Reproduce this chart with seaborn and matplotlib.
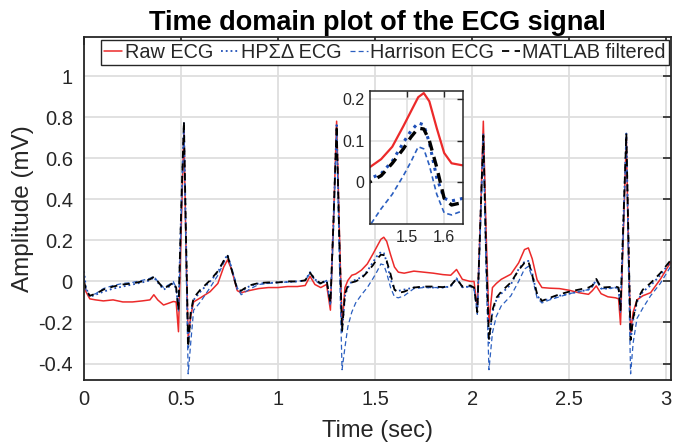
import matplotlib
matplotlib.use("Agg")
import matplotlib.pyplot as plt
import seaborn as sns
import numpy as np

# ---------------- data ----------------
t = [0.000, 0.010, 0.030, 0.060, 0.100, 0.150, 0.200, 0.250, 0.300, 0.340,
     0.360, 0.380, 0.410, 0.440, 0.460, 0.475, 0.487, 0.501, 0.515, 0.526,
     0.537, 0.550, 0.565, 0.600, 0.650, 0.690, 0.720, 0.740, 0.760, 0.790,
     0.810, 0.850, 0.900, 0.950, 1.000, 1.050, 1.100, 1.140, 1.165, 1.190,
     1.220, 1.250, 1.270, 1.286, 1.302, 1.316, 1.330, 1.345, 1.360, 1.380,
     1.400, 1.430, 1.460, 1.490, 1.510, 1.530, 1.545, 1.560, 1.580, 1.600,
     1.620, 1.650, 1.700, 1.750, 1.800, 1.850, 1.890, 1.920, 1.950, 1.990,
     2.010, 2.027, 2.043, 2.058, 2.072, 2.087, 2.105, 2.125, 2.150, 2.200,
     2.240, 2.270, 2.290, 2.310, 2.335, 2.360, 2.400, 2.450, 2.500, 2.550,
     2.600, 2.620, 2.640, 2.665, 2.700, 2.740, 2.755, 2.765, 2.780, 2.795,
     2.806, 2.817, 2.830, 2.850, 2.880, 2.920, 2.970, 3.025]

raw_ecg = [0.00, -0.05, -0.085, -0.09, -0.095, -0.09, -0.10, -0.10, -0.095, -0.09,
           -0.065, -0.09, -0.115, -0.105, -0.098, -0.10, -0.245, 0.25, 0.74, 0.15,
           -0.28, -0.17, -0.10, -0.08, -0.05, -0.01, 0.07, 0.105, 0.06, -0.045,
           -0.055, -0.045, -0.035, -0.03, -0.03, -0.025, -0.025, -0.02, 0.025, -0.015,
           -0.03, -0.015, -0.14, 0.30, 0.78, 0.25, -0.22, -0.03, 0.005, 0.03,
           0.036, 0.055, 0.085, 0.135, 0.17, 0.205, 0.215, 0.195, 0.13, 0.07,
           0.045, 0.04, 0.05, 0.045, 0.04, 0.033, 0.03, 0.058, 0.01, 0.0,
           0.0, -0.13, 0.30, 0.78, 0.25, -0.20, -0.03, -0.01, 0.01, 0.035,
           0.09, 0.155, 0.163, 0.11, 0.008, -0.03, -0.033, -0.035, -0.043, -0.055,
           -0.063, -0.045, -0.022, -0.06, -0.075, -0.08, -0.085, -0.21, 0.25, 0.70,
           0.15, -0.25, -0.15, -0.09, -0.07, -0.055, 0.01, 0.095]

hpsd_ecg = [0.05, -0.03, -0.075, -0.065, -0.05, -0.035, -0.025, -0.015, -0.005, 0.005,
            0.02, -0.005, -0.04, -0.025, -0.01, -0.035, -0.13, 0.35, 0.77, 0.20,
            -0.33, -0.16, -0.09, -0.05, 0.0, 0.045, 0.10, 0.13, 0.065, -0.04,
            -0.05, -0.025, -0.01, -0.008, -0.005, -0.003, 0.0, 0.005, 0.045, 0.01,
            -0.01, 0.005, -0.11, 0.30, 0.77, 0.20, -0.25, -0.07, -0.03, 0.0,
            0.008, 0.02, 0.05, 0.095, 0.123, 0.143, 0.138, 0.095, 0.01, -0.04,
            -0.046, -0.04, -0.03, -0.028, -0.03, -0.03, -0.025, 0.015, -0.028, -0.025,
            -0.03, -0.14, 0.30, 0.72, 0.15, -0.30, -0.15, -0.09, -0.06, -0.015,
            0.06, 0.095, 0.10, 0.04, -0.07, -0.095, -0.085, -0.07, -0.06, -0.05,
            -0.04, -0.025, 0.01, -0.035, -0.035, -0.03, -0.035, -0.14, 0.30, 0.72,
            0.20, -0.29, -0.19, -0.10, -0.05, -0.02, 0.03, 0.10]

harrison_ecg = [0.02, -0.04, -0.07, -0.06, -0.035, -0.02, -0.01, -0.005, 0.005, 0.015,
                0.025, 0.0, -0.03, -0.015, 0.0, -0.03, -0.15, 0.30, 0.76, 0.10,
                -0.45, -0.30, -0.14, -0.10, -0.03, 0.03, 0.09, 0.125, 0.07, -0.03,
                -0.065, -0.04, -0.015, -0.01, -0.005, -0.003, 0.0, 0.005, 0.04, 0.005,
                -0.015, 0.005, -0.12, 0.25, 0.74, 0.10, -0.43, -0.32, -0.22, -0.15,
                -0.105, -0.065, -0.03, 0.015, 0.048, 0.085, 0.08, 0.04, -0.03, -0.075,
                -0.08, -0.07, -0.035, -0.03, -0.03, -0.03, -0.022, 0.012, -0.03, -0.025,
                -0.035, -0.16, 0.25, 0.70, 0.05, -0.43, -0.25, -0.17, -0.12, -0.07,
                0.0, 0.06, 0.073, 0.02, -0.08, -0.105, -0.09, -0.075, -0.06, -0.05,
                -0.04, -0.025, 0.005, -0.035, -0.035, -0.03, -0.04, -0.15, 0.25, 0.71,
                0.05, -0.45, -0.30, -0.18, -0.13, -0.07, -0.01, 0.075]

matlab_ecg = [0.00, -0.04, -0.07, -0.06, -0.04, -0.025, -0.015, -0.01, 0.0, 0.01,
              0.022, 0.0, -0.035, -0.02, -0.005, -0.03, -0.14, 0.35, 0.78, 0.20,
              -0.32, -0.15, -0.08, -0.04, 0.005, 0.05, 0.10, 0.125, 0.06, -0.04,
              -0.045, -0.02, -0.008, -0.005, -0.005, 0.0, 0.0, 0.005, 0.042, 0.01,
              -0.01, 0.008, -0.105, 0.30, 0.76, 0.20, -0.24, -0.06, -0.02, -0.005,
              0.0, 0.015, 0.045, 0.08, 0.108, 0.13, 0.128, 0.10, 0.035, -0.04,
              -0.056, -0.05, -0.03, -0.025, -0.025, -0.028, -0.02, 0.013, -0.025, -0.02,
              -0.03, -0.15, 0.30, 0.71, 0.15, -0.285, -0.14, -0.08, -0.05, -0.005,
              0.055, 0.09, 0.098, 0.03, -0.06, -0.095, -0.08, -0.063, -0.05, -0.04,
              -0.03, -0.02, 0.012, -0.03, -0.028, -0.025, -0.03, -0.14, 0.30, 0.72,
              0.20, -0.285, -0.18, -0.09, -0.04, -0.008, 0.04, 0.105]

series_labels = ["Raw ECG", "HP\u03a3\u0394 ECG", "Harrison ECG", "MATLAB filtered"]
x_ticks = [0, 0.5, 1, 1.5, 2, 2.5, 3]
x_tick_labels = ["0", "0.5", "1", "1.5", "2", "2.5", "3"]
y_ticks = [-0.4, -0.2, 0, 0.2, 0.4, 0.6, 0.8, 1]
y_tick_labels = ["-0.4", "-0.2", "0", "0.2", "0.4", "0.6", "0.8", "1"]
inset_x_ticks = [1.5, 1.6]
inset_x_labels = ["1.5", "1.6"]
inset_y_ticks = [0, 0.1, 0.2]
inset_y_labels = ["0", "0.1", "0.2"]

# ---------------- style ----------------
sns.set_theme(style="whitegrid")
plt.rcParams["font.family"] = ["Liberation Sans", "DejaVu Sans"]

RED = "#ec2a2a"
BLUE_DOT = "#1f4fb8"
BLUE_DASH = "#2b5fc0"
BLACK = "#000000"
SPINE = "#262626"
GRID = "#dedede"

fig = plt.figure(figsize=(6.74, 4.45), dpi=100)
fig.patch.set_facecolor("white")
ax = fig.add_axes([0.1246, 0.1461, 0.8709, 0.7708])
ax.set_facecolor("white")

series = [
    (raw_ecg, RED, "-", 1.1),
    (hpsd_ecg, BLUE_DOT, ":", 1.3),
    (harrison_ecg, BLUE_DASH, (0, (4, 2.5)), 0.9),
    (matlab_ecg, BLACK, (0, (4, 3)), 1.3),
]
for (vals, col, ls, lw), lab in zip(series, series_labels):
    sns.lineplot(x=t, y=vals, ax=ax, color=col, linestyle=ls, linewidth=lw,
                 label=lab, sort=False, estimator=None)

ax.set_xlim(0, 3.025)
ax.set_ylim(-0.48, 1.19)
ax.set_xticks(x_ticks)
ax.set_xticklabels(x_tick_labels)
ax.set_yticks(y_ticks)
ax.set_yticklabels(y_tick_labels)
ax.tick_params(axis="both", direction="in", length=6, width=1.2, top=True, right=True,
               color=SPINE, labelcolor=SPINE, labelsize=14.5)
ax.tick_params(axis="x", pad=7)
ax.tick_params(axis="y", pad=8)
ax.grid(True, color=GRID, linewidth=1.3)
ax.set_axisbelow(True)
for sp in ax.spines.values():
    sp.set_visible(True)
    sp.set_color(SPINE)
    sp.set_linewidth(1.3)

ax.set_xlabel("Time (sec)", fontsize=17, color=SPINE, labelpad=8)
ax.set_ylabel("Amplitude (mV)", fontsize=17.5, color=SPINE, labelpad=3)
ax.set_title("Time domain plot of the ECG signal", fontsize=19.5, fontweight="bold",
             color="black", pad=5)

leg = ax.legend(loc="upper center", bbox_to_anchor=(0.513, 0.99), ncol=4,
                fontsize=14.3, frameon=True, fancybox=False, shadow=False,
                handlelength=0.9, handletextpad=0.12, columnspacing=0.4,
                borderpad=0.15, borderaxespad=0.0)
leg.get_frame().set_edgecolor(SPINE)
leg.get_frame().set_linewidth(1.0)
leg.get_frame().set_facecolor("white")
leg.get_frame().set_alpha(1.0)

# ---------------- inset ----------------
axi = fig.add_axes([0.549, 0.4966, 0.1375, 0.2989])
axi.set_facecolor("white")
inset_series = [
    (raw_ecg, RED, "-", 1.6),
    (hpsd_ecg, BLUE_DOT, ":", 2.2),
    (harrison_ecg, BLUE_DASH, (0, (3, 2)), 1.2),
    (matlab_ecg, BLACK, (0, (3, 2)), 2.4),
]
for vals, col, ls, lw in inset_series:
    sns.lineplot(x=t, y=vals, ax=axi, color=col, linestyle=ls, linewidth=lw,
                 sort=False, estimator=None, legend=False)
axi.set_xlim(1.4, 1.65)
axi.set_ylim(-0.102, 0.22)
axi.set_xticks(inset_x_ticks)
axi.set_xticklabels(inset_x_labels)
axi.set_yticks(inset_y_ticks)
axi.set_yticklabels(inset_y_labels)
axi.tick_params(axis="both", direction="in", length=4, width=1.0, top=True, right=True,
                color=SPINE, labelcolor=SPINE, labelsize=11.5, pad=4)
axi.grid(True, color=GRID, linewidth=1.1)
axi.set_axisbelow(True)
axi.set_xlabel("")
axi.set_ylabel("")
for sp in axi.spines.values():
    sp.set_visible(True)
    sp.set_color(SPINE)
    sp.set_linewidth(1.1)

fig.savefig("out.png", dpi=100)
